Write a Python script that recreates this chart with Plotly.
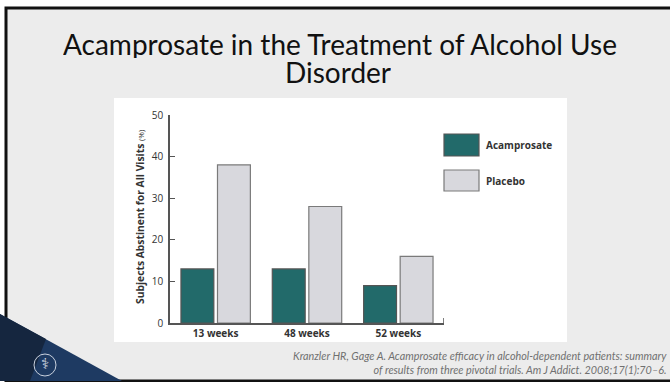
import plotly.graph_objects as go

# Abstinence data by study duration
categories = ["13 weeks", "48 weeks", "52 weeks"]
acamprosate = [13, 13, 9]
placebo = [38, 28, 16]
y_ticks = [0, 10, 20, 30, 40, 50]

W, H = 670, 382
L, R, T, B = 170, 444, 115, 323  # plot area in pixels


def px(x):
    return (x - L) / (R - L)


def py(y):
    return (B - y) / (B - T)


teal = "#226a6a"
grey_fill = "#d8d8dd"

fig = go.Figure()
fig.add_trace(go.Bar(x=categories, y=acamprosate, name="Acamprosate",
                     marker=dict(color=teal, line=dict(color="#555555", width=1.2))))
fig.add_trace(go.Bar(x=categories, y=placebo, name="Placebo",
                     marker=dict(color=grey_fill, line=dict(color="#7a7a7a", width=1.2))))

shapes = [
    # slide background with black frame
    dict(type="rect", xref="paper", yref="paper", x0=px(6), x1=px(672), y0=py(8), y1=py(381),
         fillcolor="#ececec", line=dict(color="#111111", width=3), layer="below"),
    # white chart panel
    dict(type="rect", xref="paper", yref="paper", x0=px(114), x1=px(567), y0=py(98), y1=py(342),
         fillcolor="white", line=dict(width=0), layer="below"),
    # corner decoration
    dict(type="path", xref="paper", yref="paper",
         path=f"M {px(0)},{py(314)} L {px(122)},{py(381)} L {px(0)},{py(381)} Z",
         fillcolor="#1e3a62", line=dict(width=0)),
    dict(type="path", xref="paper", yref="paper",
         path=f"M {px(0)},{py(314)} L {px(46)},{py(339)} L {px(30)},{py(381)} L {px(0)},{py(381)} Z",
         fillcolor="#15263f", line=dict(width=0)),
    dict(type="circle", xref="paper", yref="paper", x0=px(34), x1=px(56), y0=py(354), y1=py(376),
         line=dict(color="#c9d1de", width=1)),
    # end tick on the category axis
    dict(type="line", xref="x", yref="y", x0=2.5, x1=2.5, y0=0, y1=1.2,
         line=dict(color="#555555", width=1.5)),
    # legend swatches
    dict(type="rect", xref="paper", yref="paper", x0=px(444), x1=px(479), y0=py(134), y1=py(156),
         fillcolor=teal, line=dict(color="#555555", width=1.2)),
    dict(type="rect", xref="paper", yref="paper", x0=px(444), x1=px(479), y0=py(170), y1=py(191),
         fillcolor=grey_fill, line=dict(color="#7a7a7a", width=1.2)),
]

label_font = dict(family="Open Sans", size=10, color="#333333")
title_font = dict(family="Lato", size=28, color="#111111")
annotations = [
    dict(text="Acamprosate in the Treatment of Alcohol Use", x=px(340), y=py(44), height=28,
         xref="paper", yref="paper", xanchor="center", yanchor="middle", showarrow=False,
         font=title_font),
    dict(text="Disorder", x=px(338), y=py(72), height=28,
         xref="paper", yref="paper", xanchor="center", yanchor="middle", showarrow=False,
         font=title_font),
    dict(text="<b>Subjects Abstinent for All Visits</b> <span style='font-size:8px'>(%)</span>",
         x=px(140), y=py(217), xref="paper", yref="paper", textangle=-90,
         xanchor="center", yanchor="middle", showarrow=False,
         font=dict(family="Open Sans", size=10.3, color="#333333")),
    dict(text="<b>Acamprosate</b>", x=px(484), y=py(145), xref="paper", yref="paper",
         xanchor="left", yanchor="middle", showarrow=False, font=label_font),
    dict(text="<b>Placebo</b>", x=px(484), y=py(181), xref="paper", yref="paper",
         xanchor="left", yanchor="middle", showarrow=False, font=label_font),
    dict(text="<i>Kranzler HR, Gage A. Acamprosate efficacy in alcohol-dependent patients: summary</i><br>"
              "<i>of results from three pivotal trials. Am J Addict. 2008;17(1):70\u20136.</i>",
         x=px(669), y=py(362), xref="paper", yref="paper", xanchor="right", yanchor="middle",
         align="right", showarrow=False, font=dict(family="Lato", size=10.8, color="#707070")),
    dict(text="\u2695", x=px(45), y=py(364), xref="paper", yref="paper", xanchor="center",
         yanchor="middle", showarrow=False, font=dict(family="DejaVu Sans", size=15, color="#d4dae4")),
]

fig.update_layout(
    width=W, height=H,
    margin=dict(l=L, r=W - R, t=T, b=H - B),
    paper_bgcolor="white", plot_bgcolor="rgba(0,0,0,0)",
    barmode="group", bargap=0.2, bargroupgap=0.1,
    showlegend=False,
    shapes=shapes, annotations=annotations,
    xaxis=dict(range=[-0.5, 2.5], showline=True, linecolor="#555555", linewidth=1.5,
               ticks="", showgrid=False, zeroline=False,
               tickfont=dict(family="Open Sans", size=10, color="#333333"),
               tickprefix="<b>", ticksuffix="</b>"),
    yaxis=dict(range=[0, 50], tickvals=y_ticks, showline=True, linecolor="#555555", linewidth=1.5,
               ticks="inside", ticklen=5, tickcolor="#555555", tickwidth=1.2,
               showgrid=False, zeroline=False, ticklabelstandoff=3,
               tickfont=dict(family="Open Sans", size=10, color="#333333"),
               tickprefix="<b>", ticksuffix="</b>"),
)

fig.write_html("out.html")
